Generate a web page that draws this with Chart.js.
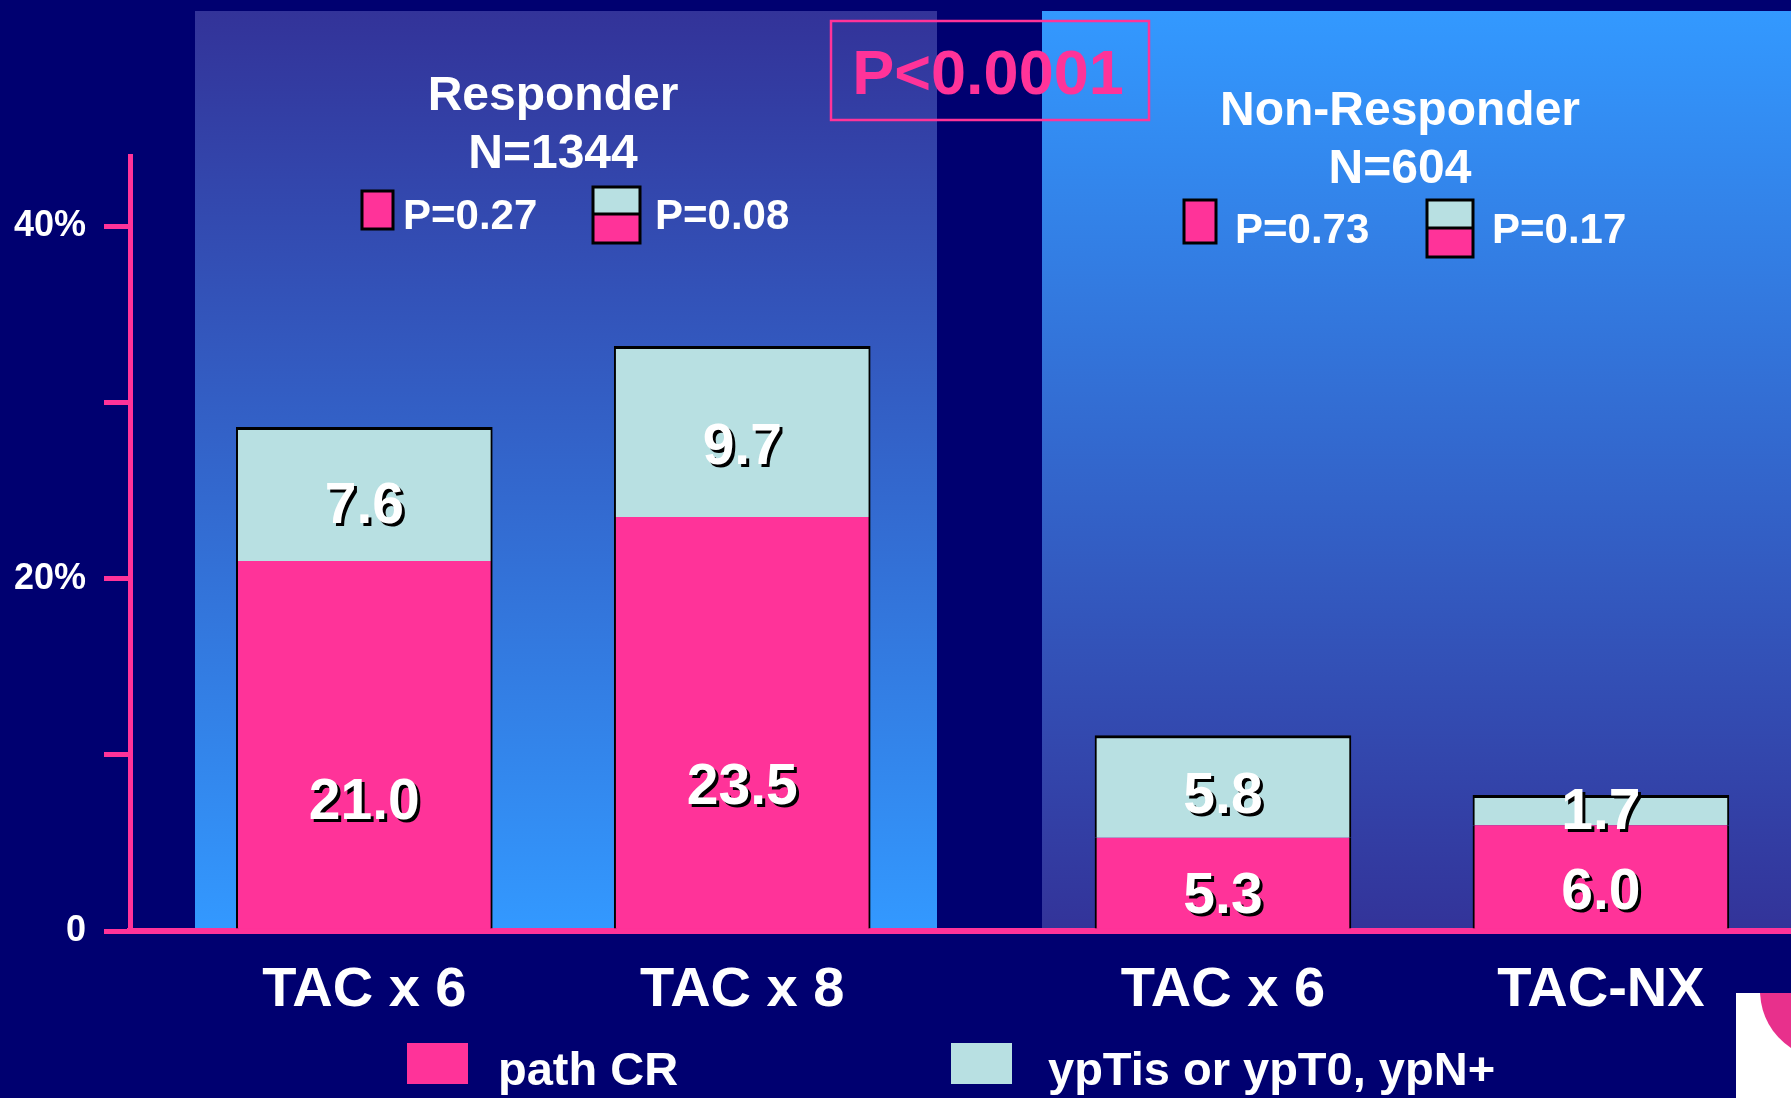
<!DOCTYPE html>
<html>
<head>
<meta charset="utf-8">
<title>pCR by early response</title>
<script src="https://cdn.jsdelivr.net/npm/chart.js@4.4.1/dist/chart.umd.min.js"></script>
<style>
  html, body { margin: 0; padding: 0; background: #000070; }
  canvas { display: block; }
</style>
</head>
<body>
<canvas id="pcrChart" width="1791" height="1098"></canvas>
<script>
const categories = ['TAC x 6', 'TAC x 8', 'TAC x 6', 'TAC-NX'];
const groupIndex = [0, 0, 1, 1];
const pathCR = [21.0, 23.5, 5.3, 6.0];
const ypTisOrN = [7.6, 9.7, 5.8, 1.7];
const seriesNames = ['path CR', 'ypTis or ypT0, ypN+'];
const groupNames = ['Responder', 'Non-Responder'];
const groupN = ['N=1344', 'N=604'];
const pPathCR = ['P=0.27', 'P=0.73'];
const pTotal = ['P=0.08', 'P=0.17'];
const pOverall = 'P<0.0001';
const yTicks = [0, 10, 20, 30, 40];
const yTickLabels = ['0', '', '20%', '', '40%'];

const PINK = '#FF3399';
const CYAN = '#B8E0E2';
const NAVY = '#000070';
const FONT = '"Liberation Sans", Arial, sans-serif';
const GROUP_GAP = 0.272;

// bar slots on the x axis: one unit per bar, plus a gap between the two groups
const xPos = categories.map((c, i) => i + groupIndex[i] * GROUP_GAP);

// panel + header layout (pixels)
const panels = [
    { left: 195, right: 937, top: 11, bottom: 931, colors: ['#333399', '#3399FF'] },
    { left: 1042, right: 1791, top: 11, bottom: 931, colors: ['#3399FF', '#333399'] }
];
const headers = [
    { cx: 553, titleY: 110, nY: 168, box1: [362, 191, 31, 38], t1: [403, 229], box2: [593, 187, 47, 56, 214], t2: [655, 229] },
    { cx: 1400, titleY: 125, nY: 183, box1: [1184, 200, 32, 43], t1: [1235, 243], box2: [1427, 200, 46, 57, 228], t2: [1492, 243] }
];

const slidePlugin = {
    id: 'slide',
    beforeDraw(chart) {
        const ctx = chart.ctx;
        ctx.save();
        ctx.fillStyle = NAVY;
        ctx.fillRect(0, 0, chart.width, chart.height);
        panels.forEach(p => {
            const g = ctx.createLinearGradient(0, p.top, 0, p.bottom);
            g.addColorStop(0, p.colors[0]);
            g.addColorStop(1, p.colors[1]);
            ctx.fillStyle = g;
            ctx.fillRect(p.left, p.top, p.right - p.left, p.bottom - p.top);
        });
        ctx.restore();
    },
    afterDatasetsDraw(chart) {
        const ctx = chart.ctx;
        ctx.save();
        ctx.font = 'bold 57px ' + FONT;
        ctx.textAlign = 'center';
        ctx.textBaseline = 'middle';
        ctx.fillStyle = '#fff';
        ctx.shadowColor = '#000';
        ctx.shadowOffsetX = 3;
        ctx.shadowOffsetY = 3;
        [pathCR, ypTisOrN].forEach((values, d) => {
            chart.getDatasetMeta(d).data.forEach((bar, i) => {
                const top = Math.min(bar.y, bar.base);
                const bottom = Math.max(bar.y, bar.base);
                const frac = d === 0 ? 0.66 : 0.6;
                ctx.fillText(values[i].toFixed(1), bar.x, top + (bottom - top) * frac);
            });
        });
        ctx.restore();
    },
    afterDraw(chart) {
        const ctx = chart.ctx;
        ctx.save();
        ctx.textBaseline = 'alphabetic';

        headers.forEach((h, g) => {
            ctx.fillStyle = '#fff';
            ctx.textAlign = 'center';
            ctx.font = 'bold 48px ' + FONT;
            ctx.fillText(groupNames[g], h.cx, h.titleY);
            ctx.fillText(groupN[g], h.cx, h.nY);

            ctx.lineWidth = 3;
            ctx.strokeStyle = '#000';
            const [b1x, b1y, b1w, b1h] = h.box1;
            ctx.fillStyle = PINK;
            ctx.fillRect(b1x, b1y, b1w, b1h);
            ctx.strokeRect(b1x, b1y, b1w, b1h);
            const [b2x, b2y, b2w, b2h, split] = h.box2;
            ctx.fillStyle = CYAN;
            ctx.fillRect(b2x, b2y, b2w, split - b2y);
            ctx.fillStyle = PINK;
            ctx.fillRect(b2x, split, b2w, b2y + b2h - split);
            ctx.strokeRect(b2x, b2y, b2w, b2h);
            ctx.beginPath();
            ctx.moveTo(b2x, split);
            ctx.lineTo(b2x + b2w, split);
            ctx.stroke();

            ctx.fillStyle = '#fff';
            ctx.textAlign = 'left';
            ctx.font = 'bold 42px ' + FONT;
            ctx.fillText(pPathCR[g], h.t1[0], h.t1[1]);
            ctx.fillText(pTotal[g], h.t2[0], h.t2[1]);
        });

        // overall p-value box
        ctx.strokeStyle = PINK;
        ctx.lineWidth = 2.5;
        ctx.strokeRect(831, 21, 318, 99);
        ctx.fillStyle = PINK;
        ctx.textAlign = 'center';
        ctx.font = 'bold 63px ' + FONT;
        ctx.fillText(pOverall, 988, 94);

        // bottom legend
        ctx.font = 'bold 47px ' + FONT;
        ctx.textAlign = 'left';
        [[407, PINK, 498], [951, CYAN, 1048]].forEach(([bx, col, tx], i) => {
            ctx.fillStyle = col;
            ctx.fillRect(bx, 1043, 61, 41);
            ctx.fillStyle = '#fff';
            ctx.fillText(seriesNames[i], tx, 1085);
        });

        // corner of the slide logo
        ctx.fillStyle = '#fff';
        ctx.fillRect(1736, 993, 55, 105);
        ctx.fillStyle = '#E8308C';
        ctx.beginPath();
        ctx.moveTo(1760, 993);
        ctx.quadraticCurveTo(1762, 1028, 1791, 1048);
        ctx.lineTo(1791, 993);
        ctx.closePath();
        ctx.fill();
        ctx.restore();
    }
};

document.addEventListener('DOMContentLoaded', function () {
    const ctx = document.getElementById('pcrChart').getContext('2d');

    new Chart(ctx, {
        type: 'bar',
        data: {
            datasets: [{
                label: seriesNames[0],
                data: pathCR.map((v, i) => ({ x: xPos[i], y: v })),
                backgroundColor: PINK,
                borderColor: '#000',
                borderWidth: { left: 2, right: 2, top: 0, bottom: 0 },
                borderSkipped: false,
                barThickness: 256
            }, {
                label: seriesNames[1],
                data: ypTisOrN.map((v, i) => ({ x: xPos[i], y: v })),
                backgroundColor: CYAN,
                borderColor: '#000',
                borderWidth: { left: 2, right: 2, top: 3, bottom: 0 },
                borderSkipped: false,
                barThickness: 256
            }]
        },
        options: {
            responsive: false,
            devicePixelRatio: 1,
            animation: false,
            layout: { padding: { top: 156, left: 0, right: 0, bottom: 0 } },
            plugins: {
                legend: { display: false },
                tooltip: { enabled: false }
            },
            scales: {
                x: {
                    type: 'linear',
                    stacked: true,
                    offset: false,
                    min: -0.62,
                    max: 3.775,
                    grid: { display: false, drawTicks: false, offset: false },
                    border: { display: true, color: PINK, width: 6 },
                    afterBuildTicks: scale => { scale.ticks = xPos.map(v => ({ value: v })); },
                    afterFit: scale => { scale.height = 167; },
                    ticks: {
                        padding: 26,
                        color: '#fff',
                        maxRotation: 0,
                        autoSkip: false,
                        font: { family: FONT, size: 56, weight: 'bold' },
                        callback: (value, index) => categories[index]
                    }
                },
                y: {
                    stacked: true,
                    min: 0,
                    max: 44,
                    grid: {
                        drawOnChartArea: false,
                        drawTicks: true,
                        tickLength: 26,
                        color: PINK,
                        lineWidth: 5
                    },
                    border: { display: true, color: PINK, width: 5 },
                    afterBuildTicks: scale => { scale.ticks = yTicks.map(v => ({ value: v })); },
                    afterFit: scale => { scale.width = 130; },
                    ticks: {
                        padding: 18,
                        color: '#fff',
                        font: { family: FONT, size: 36, weight: 'bold' },
                        callback: (value, index) => yTickLabels[index]
                    }
                }
            }
        },
        plugins: [slidePlugin]
    });
});
</script>
</body>
</html>
